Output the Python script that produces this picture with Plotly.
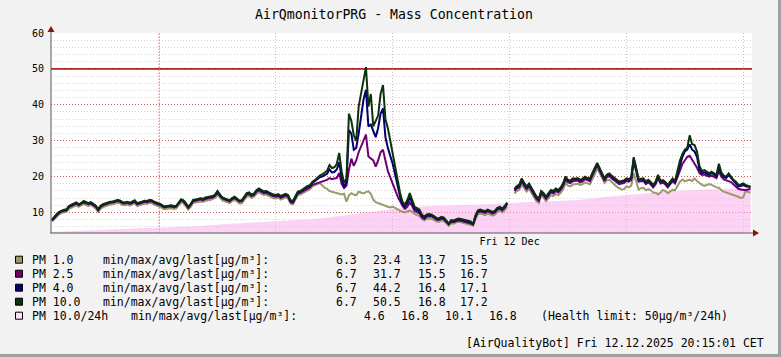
import pandas as pd
import plotly.graph_objects as go

# ---------------- data ----------------
TITLE = "AirQmonitorPRG - Mass Concentration"
START = "2025-12-11 20:20"          # first 5-minute sample
STEP = "5min"
RANGE_START = "2025-12-11 20:18"
RANGE_END = "2025-12-12 20:18"
HEALTH_LIMIT = 50

pm10 = [
    8.0, 8.9, 9.6, 10.2, 10.6, 10.8, 10.9, 11.8, 12.2, 12.5, 12.8, 12.3,
    12.6, 13.2, 12.9, 12.6, 12.9, 12.4, 11.9, 10.9, 11.9, 12.3, 12.6, 12.8,
    13.0, 13.1, 13.4, 13.5, 13.3, 12.9, 12.8, 13.0, 12.7, 13.1, 13.4, 12.6,
    12.7, 13.0, 13.3, 13.2, 13.5, 13.4, 13.0, 12.8, 12.6, 12.2, 11.7, 11.9,
    11.9, 12.0, 11.8, 11.9, 12.6, 13.7, 13.4, 12.6, 11.6, 12.4, 13.5, 13.6,
    13.9, 14.0, 13.8, 14.2, 14.3, 14.4, 14.6, 15.0, 16.0, 15.0, 14.2, 13.9,
    13.6, 13.4, 14.0, 14.4, 13.9, 13.3, 13.4, 14.5, 15.4, 15.6, 15.0, 15.3,
    16.2, 16.7, 16.3, 15.9, 16.0, 15.6, 15.4, 15.0, 14.9, 15.1, 14.6, 15.0,
    15.2, 14.9, 13.4, 13.2, 14.7, 15.8, 16.0, 16.5, 16.9, 17.4, 17.6, 18.6,
    19.0, 19.6, 20.3, 20.6, 21.0, 21.6, 23.2, 22.4, 22.6, 23.5, 26.6, 21.5,
    18.2, 19.5, 37.5, 35.5, 31.5, 30.0, 39.5, 43.5, 47.0, 50.5, 39.5, 43.0,
    34.0, 35.5, 37.0, 43.0, 45.5, 36.0, 33.5, 30.0, 26.5, 22.5, 18.5, 15.5,
    13.0, 12.2, 13.5, 15.4, 13.5, 11.6, 11.2, 10.8, 9.4, 8.9, 9.5, 9.6,
    9.4, 9.0, 8.5, 8.4, 8.8, 8.6, 7.8, 6.9, 7.9, 7.8, 8.1, 8.3,
    8.2, 8.0, 7.9, 7.7, 7.5, 6.7, 9.2, 10.6, 10.8, 10.6, 10.4, 10.8,
    10.6, 10.2, 10.5, 11.3, 11.6, 11.1, 11.8, 12.8, None, None, 16.6, 17.4,
    17.8, 19.5, 18.3, 17.2, 18.1, 16.8, 15.9, 14.5, 13.9, 16.0, 15.4, 14.4,
    15.4, 16.3, 16.0, 16.7, 16.3, 17.0, 18.1, 20.0, 19.1, 18.9, 19.5, 19.4,
    19.6, 19.1, 19.4, 20.0, 19.6, 19.4, 21.0, 22.5, 23.8, 22.4, 20.8, 19.5,
    20.6, 20.9, 20.2, 19.6, 19.0, 18.6, 18.8, 18.9, 19.5, 19.3, 19.8, 25.4,
    22.5, 19.3, 19.4, 19.5, 18.6, 19.1, 18.5, 17.7, 18.6, 20.5, 18.8, 19.0,
    18.5, 17.7, 18.6, 19.5, 18.8, 21.5, 24.5, 26.3, 27.5, 28.0, 31.5, 29.0,
    28.8, 27.0, 23.0, 21.5, 21.8, 21.4, 20.9, 21.4, 21.0, 20.5, 23.6, 21.2,
    20.3, 20.0, 20.9, 20.0, 19.1, 18.6, 17.7, 17.8, 18.1, 17.7, 17.5, 17.2,
]

pm4 = [
    7.9, 8.8, 9.5, 10.1, 10.5, 10.7, 10.8, 11.7, 12.0, 12.4, 12.7, 12.2,
    12.5, 13.0, 12.8, 12.5, 12.7, 12.3, 11.8, 10.8, 11.8, 12.2, 12.5, 12.7,
    12.9, 13.0, 13.2, 13.4, 13.2, 12.8, 12.7, 12.9, 12.6, 13.0, 13.2, 12.5,
    12.6, 12.9, 13.2, 13.1, 13.3, 13.3, 12.9, 12.7, 12.5, 12.1, 11.6, 11.8,
    11.8, 11.9, 11.7, 11.8, 12.5, 13.5, 13.3, 12.5, 11.5, 12.3, 13.3, 13.5,
    13.7, 13.9, 13.7, 14.0, 14.2, 14.3, 14.4, 14.8, 15.8, 14.9, 14.1, 13.8,
    13.5, 13.3, 13.9, 14.2, 13.8, 13.2, 13.3, 14.3, 15.2, 15.4, 14.9, 15.1,
    16.0, 16.5, 16.1, 15.7, 15.8, 15.4, 15.2, 14.8, 14.7, 14.9, 14.4, 14.8,
    15.0, 14.7, 13.2, 13.0, 14.5, 15.6, 15.8, 16.3, 16.7, 17.2, 17.4, 18.3,
    18.7, 19.2, 19.8, 20.0, 20.3, 20.8, 22.0, 21.2, 21.3, 22.0, 24.0, 19.8,
    17.0, 18.5, 33.0, 32.0, 27.5, 28.0, 32.0, 36.5, 41.5, 44.2, 34.0, 34.5,
    33.0, 31.0, 33.5, 37.5, 39.0, 31.0, 28.0, 26.0, 23.5, 20.5, 17.0, 14.5,
    12.3, 11.6, 12.6, 14.2, 12.7, 11.0, 10.7, 10.3, 9.0, 8.6, 9.2, 9.3,
    9.2, 8.8, 8.3, 8.2, 8.6, 8.4, 7.6, 6.8, 7.7, 7.6, 7.9, 8.1,
    8.0, 7.8, 7.7, 7.5, 7.3, 6.7, 9.0, 10.4, 10.6, 10.4, 10.2, 10.6,
    10.4, 10.0, 10.3, 11.1, 11.4, 10.9, 11.6, 12.6, None, None, 16.4, 17.1,
    17.5, 19.2, 18.0, 17.0, 17.8, 16.6, 15.7, 14.3, 13.7, 15.8, 15.2, 14.2,
    15.2, 16.1, 15.8, 16.5, 16.1, 16.8, 17.9, 19.7, 18.9, 18.7, 19.2, 19.2,
    19.4, 18.9, 19.2, 19.8, 19.4, 19.2, 20.8, 22.2, 23.6, 22.1, 20.6, 19.3,
    20.4, 20.6, 20.0, 19.4, 18.8, 18.4, 18.6, 18.7, 19.3, 19.1, 19.6, 25.0,
    22.2, 19.1, 19.2, 19.3, 18.4, 18.9, 18.3, 17.5, 18.4, 20.2, 18.6, 18.8,
    18.3, 17.5, 18.4, 19.2, 18.6, 21.0, 23.5, 25.5, 27.0, 27.5, 29.0, 27.5,
    27.0, 25.5, 22.0, 21.0, 21.2, 20.9, 20.5, 21.0, 20.6, 20.1, 22.8, 20.8,
    19.9, 19.6, 20.4, 19.6, 18.7, 18.2, 17.3, 17.4, 17.7, 17.3, 17.2, 17.1,
]

pm25 = [
    7.8, 8.6, 9.3, 9.9, 10.3, 10.5, 10.6, 11.5, 11.8, 12.2, 12.5, 12.0,
    12.3, 12.8, 12.6, 12.3, 12.5, 12.1, 11.6, 10.6, 11.6, 12.0, 12.3, 12.5,
    12.7, 12.8, 13.0, 13.2, 13.0, 12.6, 12.5, 12.7, 12.4, 12.8, 13.0, 12.3,
    12.4, 12.7, 13.0, 12.9, 13.1, 13.1, 12.7, 12.5, 12.3, 11.9, 11.4, 11.6,
    11.6, 11.7, 11.5, 11.6, 12.3, 13.3, 13.1, 12.3, 11.3, 12.1, 13.1, 13.3,
    13.5, 13.6, 13.4, 13.8, 13.9, 14.0, 14.2, 14.6, 15.5, 14.6, 13.9, 13.6,
    13.3, 13.1, 13.7, 14.0, 13.6, 13.0, 13.1, 14.1, 15.0, 15.1, 14.6, 14.9,
    15.8, 16.2, 15.8, 15.4, 15.5, 15.1, 14.9, 14.5, 14.4, 14.6, 14.1, 14.5,
    14.7, 14.4, 12.9, 12.7, 14.2, 15.3, 15.5, 15.9, 16.3, 16.8, 17.0, 17.7,
    17.9, 18.2, 18.5, 18.6, 18.9, 19.1, 19.6, 19.3, 19.5, 19.6, 21.0, 18.0,
    16.8, 17.5, 21.9, 25.0, 23.0, 24.5, 26.8, 28.5, 29.8, 31.7, 25.6, 25.0,
    24.5, 22.8, 24.5, 26.8, 27.5, 24.5, 21.5, 19.8, 18.0, 16.0, 14.5, 13.2,
    11.8, 11.0, 11.6, 12.8, 11.8, 10.4, 10.1, 9.8, 8.6, 8.2, 8.9, 9.0,
    8.9, 8.5, 8.0, 7.9, 8.3, 8.1, 7.3, 6.7, 7.4, 7.3, 7.6, 7.8,
    7.7, 7.5, 7.4, 7.2, 7.0, 6.7, 8.7, 10.1, 10.3, 10.1, 9.9, 10.3,
    10.1, 9.7, 10.0, 10.8, 11.1, 10.6, 11.3, 12.3, None, None, 16.0, 16.7,
    17.0, 18.7, 17.5, 16.5, 17.3, 16.1, 15.2, 13.8, 13.2, 15.3, 14.7, 13.8,
    14.7, 15.6, 15.3, 16.0, 15.6, 16.3, 17.4, 19.2, 18.4, 18.2, 18.7, 18.7,
    18.9, 18.4, 18.7, 19.3, 18.9, 18.7, 20.3, 21.7, 23.2, 21.6, 20.1, 18.8,
    19.9, 20.1, 19.5, 18.9, 18.3, 17.9, 18.1, 18.2, 18.8, 18.6, 19.1, 24.0,
    21.5, 18.6, 18.7, 18.8, 17.9, 18.4, 17.8, 17.0, 17.9, 19.6, 18.1, 18.3,
    17.8, 17.0, 17.9, 18.7, 18.1, 20.0, 22.0, 23.5, 24.5, 25.5, 25.8, 24.8,
    23.7, 22.5, 21.0, 20.5, 20.6, 20.2, 20.0, 20.3, 20.0, 19.6, 21.5, 20.0,
    19.2, 18.9, 18.8, 18.5, 17.8, 17.2, 16.6, 16.4, 16.3, 16.2, 16.4, 16.7,
]

pm1 = [
    7.5, 8.2, 8.9, 9.5, 9.9, 10.1, 10.2, 11.0, 11.4, 11.7, 12.0, 11.6,
    11.9, 12.4, 12.1, 11.8, 12.1, 11.6, 11.1, 10.2, 11.1, 11.5, 11.8, 12.0,
    12.2, 12.3, 12.6, 12.7, 12.5, 12.1, 12.0, 12.2, 11.9, 12.3, 12.6, 11.8,
    11.9, 12.2, 12.5, 12.4, 12.7, 12.6, 12.2, 12.0, 11.8, 11.4, 10.9, 11.1,
    11.1, 11.2, 11.0, 11.1, 11.8, 12.8, 12.6, 11.8, 10.8, 11.6, 12.7, 12.8,
    13.0, 13.1, 13.0, 13.3, 13.4, 13.5, 13.7, 14.1, 14.9, 14.1, 13.4, 13.1,
    12.8, 12.6, 13.2, 13.5, 13.1, 12.5, 12.6, 13.6, 14.4, 14.6, 14.1, 14.4,
    15.2, 15.6, 15.3, 14.9, 15.0, 14.6, 14.4, 14.0, 13.9, 14.1, 13.6, 14.0,
    14.2, 13.9, 12.5, 12.3, 13.7, 14.8, 15.0, 15.4, 15.8, 16.3, 16.5, 17.3,
    17.6, 17.8, 18.2, 17.6, 16.9, 16.6, 16.0, 15.8, 15.6, 15.5, 15.3, 15.0,
    15.2, 13.0, 14.8, 15.4, 15.0, 14.8, 15.8, 15.5, 15.3, 15.7, 15.9, 15.2,
    13.6, 12.9, 12.6, 12.3, 12.1, 11.8, 11.6, 11.4, 11.6, 11.3, 10.8, 10.5,
    10.2, 10.0, 10.3, 10.6, 10.2, 9.6, 9.3, 9.0, 8.2, 7.8, 8.3, 8.4,
    8.3, 7.9, 7.5, 7.4, 7.8, 7.6, 6.9, 6.3, 7.0, 6.9, 7.2, 7.4,
    7.3, 7.1, 7.0, 6.8, 6.6, 6.4, 8.1, 9.5, 9.7, 9.5, 9.3, 9.7,
    9.5, 9.1, 9.4, 10.2, 10.5, 10.0, 10.6, 11.6, None, None, 15.3, 16.0,
    16.3, 17.8, 16.8, 15.8, 16.6, 15.4, 14.6, 13.2, 12.7, 14.6, 14.1, 13.2,
    14.0, 14.8, 14.6, 15.2, 14.8, 15.5, 16.5, 18.2, 17.5, 17.3, 17.8, 17.8,
    18.0, 17.7, 17.9, 18.4, 18.1, 17.9, 19.3, 20.6, 22.4, 21.0, 19.4, 18.3,
    19.0, 19.1, 18.5, 17.8, 17.2, 16.8, 16.4, 16.5, 17.3, 17.0, 17.5, 21.0,
    19.0, 16.4, 16.8, 16.9, 16.2, 16.5, 16.2, 15.6, 15.5, 15.0, 15.6, 16.3,
    16.0, 15.4, 15.9, 16.3, 16.2, 17.4, 18.6, 19.2, 18.7, 18.9, 19.1, 18.8,
    19.5, 18.8, 18.2, 17.7, 17.4, 17.6, 17.9, 17.7, 17.3, 17.0, 16.9, 16.2,
    15.8, 15.6, 15.3, 15.2, 15.0, 14.8, 14.4, 14.0, 14.3, 16.0, 15.8, 15.5,
]

# PM 10.0 rolling 24 h average, hourly readings (last one at 20:15)
pm10_24h_times = [
    "2025-12-11 20:20", "2025-12-11 21:20", "2025-12-11 22:20", "2025-12-11 23:20",
    "2025-12-12 00:20", "2025-12-12 01:20", "2025-12-12 02:20", "2025-12-12 03:20",
    "2025-12-12 04:20", "2025-12-12 05:20", "2025-12-12 06:20", "2025-12-12 07:20",
    "2025-12-12 08:20", "2025-12-12 09:20", "2025-12-12 10:20", "2025-12-12 11:20",
    "2025-12-12 12:20", "2025-12-12 13:20", "2025-12-12 14:20", "2025-12-12 15:20",
    "2025-12-12 16:20", "2025-12-12 17:20", "2025-12-12 18:20", "2025-12-12 19:20",
    "2025-12-12 20:15",
]
pm10_24h = [
    4.6, 5.0, 5.3, 5.6, 5.9, 6.2, 6.8, 7.2, 7.6, 8.2, 9.2, 10.3,
    11.3, 11.8, 12.0, 12.3, 12.8, 13.2, 13.5, 14.4, 15.2, 15.8, 16.3, 16.6,
    16.8,
]

GRID_TIMES = ["2025-12-12 00:00", "2025-12-12 04:00", "2025-12-12 08:00",
              "2025-12-12 12:00", "2025-12-12 16:00", "2025-12-12 20:00"]
GRID_LABELS = ["", "", "", "Fri 12 Dec", "", ""]
MAJOR_TIME = "2025-12-12 00:00"

Y_MIN, Y_MAX = 4.3, 60
Y_TICKS = [10, 20, 30, 40, 50, 60]

LEGEND_NAMES = ["PM 1.0", "PM 2.5", "PM 4.0", "PM 10.0", "PM 10.0/24h"]
LEGEND_STATS = [
    ["6.3", "23.4", "13.7", "15.5"],
    ["6.7", "31.7", "15.5", "16.7"],
    ["6.7", "44.2", "16.4", "17.1"],
    ["6.7", "50.5", "16.8", "17.2"],
    ["4.6", "16.8", "10.1", "16.8"],
]
UNIT_LABEL = "min/max/avg/last[µg/m³]:"
HEALTH_NOTE = "(Health limit: 50µg/m³/24h)"
FOOTER = "[AirQualityBot] Fri 12.12.2025 20:15:01 CET"

# ---------------- style ----------------
W, H = 781, 357
PL, PR, PT, PB = 51, 752, 33, 233       # plot area in pixels
MONO = "DejaVu Sans Mono"
C_PM1 = "#9A9A6A"
C_PM25 = "#700070"
C_PM4 = "#000070"
C_PM10 = "#0B330B"
C_PINK_FILL = "rgba(250,175,236,0.55)"
C_PINK_BOX = "#FFE0F8"
LEGEND_COLORS = [C_PM1, C_PM25, C_PM4, C_PM10, C_PINK_BOX]
BG = "#F2F2F2"


def px(xp):
    return (xp - PL) / (PR - PL)


def py(yp):
    return (PB - yp) / (PB - PT)


times = pd.date_range(START, periods=len(pm10), freq=STEP)

fig = go.Figure()
fig.add_trace(go.Scatter(x=pd.to_datetime(pm10_24h_times), y=pm10_24h, mode="lines",
                         fill="tozeroy", fillcolor=C_PINK_FILL,
                         line=dict(width=0, color=C_PINK_FILL), hoverinfo="skip"))
for vals, col in [(pm1, C_PM1), (pm25, C_PM25), (pm4, C_PM4), (pm10, C_PM10)]:
    fig.add_trace(go.Scatter(x=times, y=vals, mode="lines", connectgaps=False,
                             line=dict(width=2, color=col)))

shapes = []
# midnight major grid line
shapes.append(dict(type="line", xref="x", yref="paper", x0=MAJOR_TIME, x1=MAJOR_TIME,
                   y0=0, y1=1, layer="between",
                   line=dict(color="rgba(200,60,60,0.8)", width=1, dash="1px,2px")))
# health limit
shapes.append(dict(type="line", xref="paper", yref="y", x0=0, x1=1,
                   y0=HEALTH_LIMIT, y1=HEALTH_LIMIT, layer="between",
                   line=dict(color="#A81818", width=1.6)))
# axes
AX = "#5A5A5A"
ARW = "#8B1010"
shapes.append(dict(type="line", xref="paper", yref="paper", x0=px(51), x1=px(51),
                   y0=py(233.5), y1=py(30), line=dict(color=AX, width=1)))
shapes.append(dict(type="line", xref="paper", yref="paper", x0=px(50.5), x1=px(754),
                   y0=py(233), y1=py(233), line=dict(color=AX, width=1)))
shapes.append(dict(type="path", xref="paper", yref="paper",
                   path=f"M {px(51)},{py(26)} L {px(47.5)},{py(32)} L {px(54.5)},{py(32)} Z",
                   fillcolor=ARW, line=dict(width=0)))
shapes.append(dict(type="path", xref="paper", yref="paper",
                   path=f"M {px(759)},{py(233)} L {px(753)},{py(229.5)} L {px(753)},{py(236.5)} Z",
                   fillcolor=ARW, line=dict(width=0)))
# frame
shapes.append(dict(type="rect", xref="paper", yref="paper", x0=px(778), x1=px(781.5),
                   y0=py(357.5), y1=py(-0.5), fillcolor="#A0A0A0", line=dict(width=0)))
shapes.append(dict(type="rect", xref="paper", yref="paper", x0=px(-0.5), x1=px(781.5),
                   y0=py(357.5), y1=py(354), fillcolor="#A0A0A0", line=dict(width=0)))

annotations = []
ROW_Y0, ROW_DY = 259.7, 14
VAL_X = [335, 372.3, 416.7, 459.3]
VAL_X_24H = [363.3, 400, 444, 488.3]
FS = 11.5
for i, name in enumerate(LEGEND_NAMES):
    yc = ROW_Y0 + i * ROW_DY
    shapes.append(dict(type="rect", xref="paper", yref="paper",
                       x0=px(15.5), x1=px(22.5), y0=py(yc + 3.5), y1=py(yc - 3.5),
                       fillcolor=LEGEND_COLORS[i], line=dict(color="#000000", width=1)))
    pieces = [(31, name), (130 if i == 4 else 101.7, UNIT_LABEL)]
    xs = VAL_X_24H if i == 4 else VAL_X
    pieces += list(zip(xs, LEGEND_STATS[i]))
    if i == 4:
        pieces.append((540, HEALTH_NOTE))
    for xp_, txt in pieces:
        annotations.append(dict(xref="paper", yref="paper", x=px(xp_), y=py(yc),
                                xanchor="left", yanchor="middle", showarrow=False,
                                text=txt, borderpad=0,
                                font=dict(family=MONO, size=FS, color="#000000")))
annotations.append(dict(xref="paper", yref="paper", x=px(765), y=py(343),
                        xanchor="right", yanchor="middle", showarrow=False,
                        text=FOOTER, borderpad=0,
                        font=dict(family=MONO, size=FS, color="#000000")))

fig.update_layout(
    width=W, height=H,
    margin=dict(l=PL, r=W - PR, t=PT, b=H - PB, pad=0),
    paper_bgcolor=BG, plot_bgcolor="#FFFFFF",
    showlegend=False,
    title=dict(text=TITLE, x=394 / W, xref="container", xanchor="center",
               y=1 - 14 / H, yref="container", yanchor="middle",
               font=dict(family=MONO, size=13.2, color="#000000")),
    shapes=shapes, annotations=annotations,
    xaxis=dict(type="date", range=[RANGE_START, RANGE_END],
               tickmode="array", tickvals=GRID_TIMES, ticktext=GRID_LABELS,
               showgrid=True, gridcolor="rgba(170,170,170,0.7)", griddash="1px,2px",
               gridwidth=1, ticks="", showline=False, zeroline=False,
               ticklabelstandoff=1,
               tickfont=dict(family=MONO, size=10, color="#000000")),
    yaxis=dict(range=[Y_MIN, Y_MAX], tickmode="array", tickvals=Y_TICKS,
               showgrid=True, gridcolor="rgba(200,60,60,0.8)", griddash="1px,2px",
               gridwidth=1, ticks="", showline=False, zeroline=False,
               ticklabelstandoff=6,
               tickfont=dict(family=MONO, size=10, color="#000000"),
               minor=dict(dtick=2, tick0=0, showgrid=True,
                          gridcolor="rgba(185,185,185,0.6)", griddash="1px,2px",
                          gridwidth=1)),
)

fig.write_html("out.html",
               config={"displayModeBar": False},
               post_script="document.body.style.margin='0';document.body.style.background='" + BG + "';")
